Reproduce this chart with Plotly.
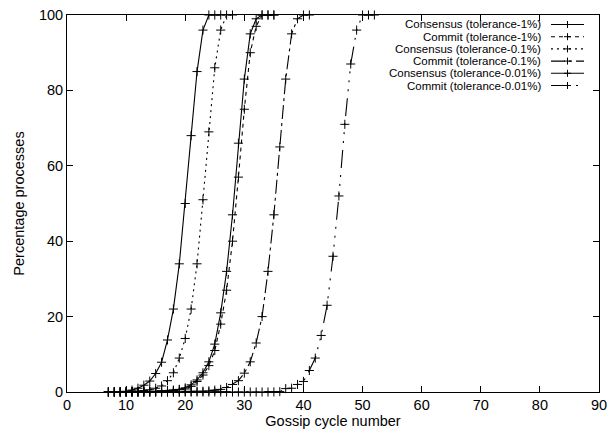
import plotly.graph_objects as go

# ---------------- data ----------------
cons1_x = list(range(7, 27))
cons1_y = [0, 0, 0.1, 0.2, 0.5, 1, 1.8, 2.9, 4.9, 7.9, 13.8, 22, 34, 50, 68, 85, 96, 100, 100, 100]

cons01_x = list(range(7, 29))
cons01_y = [0, 0, 0, 0, 0.1, 0.2, 0.4, 0.6, 1, 1.6, 3, 5.1, 9, 14.2, 22, 34, 51, 69, 86, 96, 100, 100]

cons001_x = list(range(7, 36))
cons001_y = [0, 0, 0, 0, 0, 0, 0.1, 0.1, 0.2, 0.3, 0.4, 0.5, 0.7, 1.1, 1.9, 3.2, 5.1, 8,
             12.7, 21, 32, 47, 66, 83, 95, 99, 100, 100, 100]

com1_x = list(range(7, 36))
com1_y = [0, 0, 0, 0, 0, 0, 0, 0.1, 0.1, 0.2, 0.3, 0.4, 0.6, 0.8, 1.5, 2.8, 4.5, 7,
          11, 18, 27, 40, 57, 75, 90, 97, 100, 100, 100]

com01_x = list(range(7, 42))
com01_y = [0, 0, 0, 0, 0, 0, 0, 0, 0, 0, 0, 0, 0, 0.1, 0.1, 0.2, 0.2, 0.3, 0.5,
           0.7, 1.2, 2, 3, 5, 8, 13, 20, 32, 47, 65, 83, 95, 99, 100, 100]

com001_x = list(range(7, 53))
com001_y = [0] * 29 + [0.1, 0.9, 1, 2, 2.8, 5.7, 9, 15, 23, 36, 52, 71, 87, 96, 100, 100, 100]

series_names = ["Consensus (tolerance-1%)", "Commit (tolerance-1%)",
                "Consensus (tolerance-0.1%)", "Commit (tolerance-0.1%)",
                "Consensus (tolerance-0.01%)", "Commit (tolerance-0.01%)"]

x_ticks = [0, 10, 20, 30, 40, 50, 60, 70, 80, 90]
y_ticks = [0, 20, 40, 60, 80, 100]

# ---------------- styling ----------------
dashes = ["solid", "4px,4px", "2px,4px", "14px,4px,3px,4px", "solid",
          "18px,7px,2px,7px,2px,7px,2px,7px"]
xs = [cons1_x, com1_x, cons01_x, com01_x, cons001_x, com001_x]
ys = [cons1_y, com1_y, cons01_y, com01_y, cons001_y, com001_y]

FONT = "Liberation Sans, Arial, Helvetica, sans-serif"
W, H = 611, 435
L, R, T, B = 67, 12, 15, 43
PW, PH = W - L - R, H - T - B

fig = go.Figure()
for name, x, y, d in zip(series_names, xs, ys, dashes):
    fig.add_trace(go.Scatter(
        x=x, y=y, name=name, mode="lines+markers",
        line=dict(color="black", width=1.1, dash=d),
        marker=dict(symbol="cross-thin", size=6.5, line=dict(color="black", width=1)),
        cliponaxis=False, showlegend=False))

# manual legend (text right aligned, sample on the right, like gnuplot)
def px2paper_x(px):
    return (px - L) / PW

def px2paper_y(py):
    return (H - B - py) / PH

shapes = []
annotations = []
row0, rowstep = 24.5, 12.2
for i, (name, d) in enumerate(zip(series_names, dashes)):
    py = row0 + i * rowstep
    annotations.append(dict(x=px2paper_x(543), y=px2paper_y(py), xref="paper", yref="paper",
                            text=name, showarrow=False, xanchor="right", yanchor="middle",
                            font=dict(family=FONT, size=11.5, color="black")))
    shapes.append(dict(type="line", xref="paper", yref="paper",
                       x0=px2paper_x(551), x1=px2paper_x(584),
                       y0=px2paper_y(py), y1=px2paper_y(py),
                       line=dict(color="black", width=1.1, dash=d)))
    cx = 567.5
    shapes.append(dict(type="line", xref="paper", yref="paper",
                       x0=px2paper_x(cx - 3.5), x1=px2paper_x(cx + 3.5),
                       y0=px2paper_y(py), y1=px2paper_y(py),
                       line=dict(color="black", width=1)))
    shapes.append(dict(type="line", xref="paper", yref="paper",
                       x0=px2paper_x(cx), x1=px2paper_x(cx),
                       y0=px2paper_y(py - 3.5), y1=px2paper_y(py + 3.5),
                       line=dict(color="black", width=1)))

fig.update_layout(
    width=W, height=H,
    margin=dict(l=L, r=R, t=T, b=B, pad=0, autoexpand=False),
    paper_bgcolor="white", plot_bgcolor="white",
    font=dict(family=FONT, size=14.5, color="black"),
    shapes=shapes, annotations=annotations,
    xaxis=dict(range=[0, 90], tickvals=x_ticks, ticks="inside", ticklen=6,
               tickcolor="black", showline=True, linecolor="black", linewidth=1,
               mirror="ticks", showgrid=False, zeroline=False, automargin=False,
               title=dict(text="Gossip cycle number", standoff=3,
                          font=dict(family=FONT, size=14.5))),
    yaxis=dict(range=[0, 100], tickvals=y_ticks, ticks="inside", ticklen=6,
               tickcolor="black", showline=True, linecolor="black", linewidth=1,
               mirror="ticks", showgrid=False, zeroline=False, automargin=False,
               title=dict(text="Percentage processes", standoff=10,
                          font=dict(family=FONT, size=14.5))),
)

fig.write_html("out.html")
